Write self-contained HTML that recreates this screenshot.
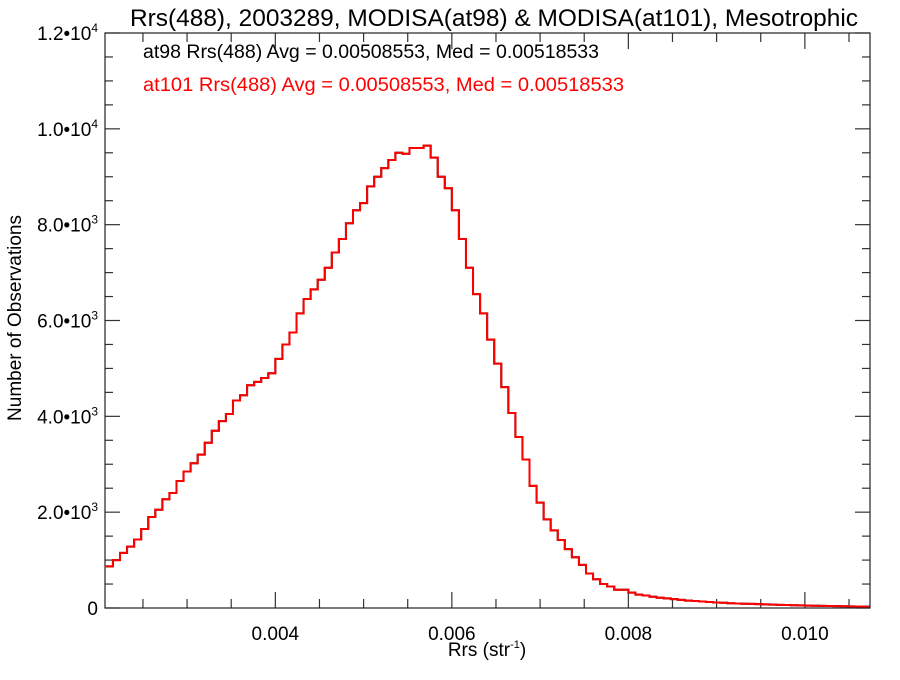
<!DOCTYPE html>
<html><head><meta charset="utf-8"><style>
body{margin:0;background:#fff;}
svg text{font-family:"Liberation Sans",Arial,sans-serif;}
</style></head><body>
<svg id="chart" width="900" height="675" xmlns="http://www.w3.org/2000/svg">
<rect width="900" height="675" fill="#fff"/>
<text x="494" y="26" font-size="24" text-anchor="middle" textLength="728" lengthAdjust="spacingAndGlyphs">Rrs(488), 2003289, MODISA(at98) &amp; MODISA(at101), Mesotrophic</text>
<text x="143" y="58" font-size="19" textLength="456" lengthAdjust="spacingAndGlyphs">at98 Rrs(488) Avg = 0.00508553, Med = 0.00518533</text>
<text x="143" y="91" font-size="19" fill="#ff0000" textLength="481" lengthAdjust="spacingAndGlyphs">at101 Rrs(488) Avg = 0.00508553, Med = 0.00518533</text>
<text x="487" y="656" font-size="19" text-anchor="middle">Rrs (str<tspan font-size="11" dy="-8">-1</tspan><tspan dy="8">)</tspan></text>
<text transform="translate(21,318) rotate(-90)" font-size="19" text-anchor="middle">Number of Observations</text>
<g id="ticks"></g>
<g id="marks"></g>
<rect x="105" y="33" width="765" height="575" fill="none" stroke="#222" stroke-width="1.2"/>
</svg>
<script>
const binStart = 0.00208;
const binWidth = 0.00008;
const countsAt98 = [870,1000,1150,1280,1430,1650,1900,2050,2270,2400,2650,2850,3020,3200,3450,3700,3900,4050,4330,4440,4650,4720,4800,4900,5200,5500,5750,6150,6450,6650,6850,7100,7420,7700,8030,8300,8450,8800,9000,9180,9350,9500,9480,9600,9600,9650,9400,9000,8760,8300,7700,7100,6550,6150,5600,5100,4610,4070,3570,3100,2550,2200,1850,1620,1420,1230,1060,900,720,600,500,450,380,380,320,280,260,235,215,200,185,170,155,145,135,125,115,110,100,95,90,85,80,75,70,65,62,58,55,50,47,44,41,38,36,34,32,30,28];
const countsAt101 = [870,1000,1150,1280,1430,1650,1900,2050,2270,2400,2650,2850,3020,3200,3450,3700,3900,4050,4330,4440,4650,4720,4800,4900,5200,5500,5750,6150,6450,6650,6850,7100,7420,7700,8030,8300,8450,8800,9000,9180,9350,9500,9480,9600,9600,9650,9400,9000,8760,8300,7700,7100,6550,6150,5600,5100,4610,4070,3570,3100,2550,2200,1850,1620,1420,1230,1060,900,720,600,500,450,380,380,320,280,260,235,215,200,185,170,155,145,135,125,115,110,100,95,90,85,80,75,70,65,62,58,55,50,47,44,41,38,36,34,32,30,28];
const xTickValues = [0.004,0.006,0.008,0.010];
const xTickLabels = ["0.004","0.006","0.008","0.010"];
const yTickValues = [0,2000,4000,6000,8000,10000,12000];
const yTickMantissa = ["0","2.0","4.0","6.0","8.0","1.0","1.2"];
const yTickExponent = ["","3","3","3","3","4","4"];

const X0=105,X1=870,Y0=608,Y1=33;
const xMin=0.00207,xMax=0.010738,yMin=0,yMax=12000;
const NS="http://www.w3.org/2000/svg";
function xs(v){return X0+(v-xMin)/(xMax-xMin)*(X1-X0);}
function ys(v){return Y0-(v-yMin)/(yMax-yMin)*(Y0-Y1);}
const tg=document.getElementById('ticks');
function line(x1,y1,x2,y2,name){const l=document.createElementNS(NS,'line');
l.setAttribute('x1',x1);l.setAttribute('y1',y1);l.setAttribute('x2',x2);l.setAttribute('y2',y2);
l.setAttribute('stroke','#333');l.setAttribute('stroke-width','1.2');


tg.appendChild(l);}
for(let k=Math.ceil(xMin/0.0005);k*0.0005<=xMax;k++){const v=k*0.0005;const px=xs(v);
 const major=(k%4===0);const len=major?16:9;
 line(px,Y0,px,Y0-len,'x-tick');line(px,Y1,px,Y1+len,'x-tick-top');}
xTickValues.forEach((v,i)=>{const t=document.createElementNS(NS,'text');
t.setAttribute('x',xs(v));t.setAttribute('y',Y0+32);t.setAttribute('font-size','19');t.setAttribute('text-anchor','middle');
t.textContent=xTickLabels[i];


tg.appendChild(t);});
for(let v=0;v<=yMax;v+=500){const py=ys(v);const major=(v%2000===0);const len=major?15:8;
 line(X0,py,X0+len,py,'y-tick');line(X1,py,X1-len,py,'y-tick-right');}
yTickValues.forEach((v,i)=>{const t=document.createElementNS(NS,'text');
t.setAttribute('x',98);t.setAttribute('y',ys(v)+7);t.setAttribute('font-size','19');t.setAttribute('text-anchor','end');
if(yTickExponent[i]===''){t.textContent=yTickMantissa[i];}
else{t.appendChild(document.createTextNode(yTickMantissa[i]+'•10'));
 const s=document.createElementNS(NS,'tspan');s.setAttribute('font-size','12');s.setAttribute('dy','-8');s.textContent=yTickExponent[i];t.appendChild(s);}


tg.appendChild(t);});
function stepPath(counts){let d='';counts.forEach((c,i)=>{const a=Math.max(xMin,binStart+i*binWidth),b=Math.min(xMax,binStart+(i+1)*binWidth);
 const y=ys(c);d+=(i===0?'M'+xs(a)+','+y:'L'+xs(a)+','+y)+'L'+xs(b)+','+y;});return d;}
const mg=document.getElementById('marks');
const p1=document.createElementNS(NS,'path');p1.setAttribute('d',stepPath(countsAt98));
p1.setAttribute('fill','none');p1.setAttribute('stroke','#000');p1.setAttribute('stroke-width','2');


mg.appendChild(p1);
const p2=document.createElementNS(NS,'path');p2.setAttribute('d',stepPath(countsAt101));
p2.setAttribute('fill','none');p2.setAttribute('stroke','#ff0000');p2.setAttribute('stroke-width','2');


mg.appendChild(p2);
</script>
</body></html>
